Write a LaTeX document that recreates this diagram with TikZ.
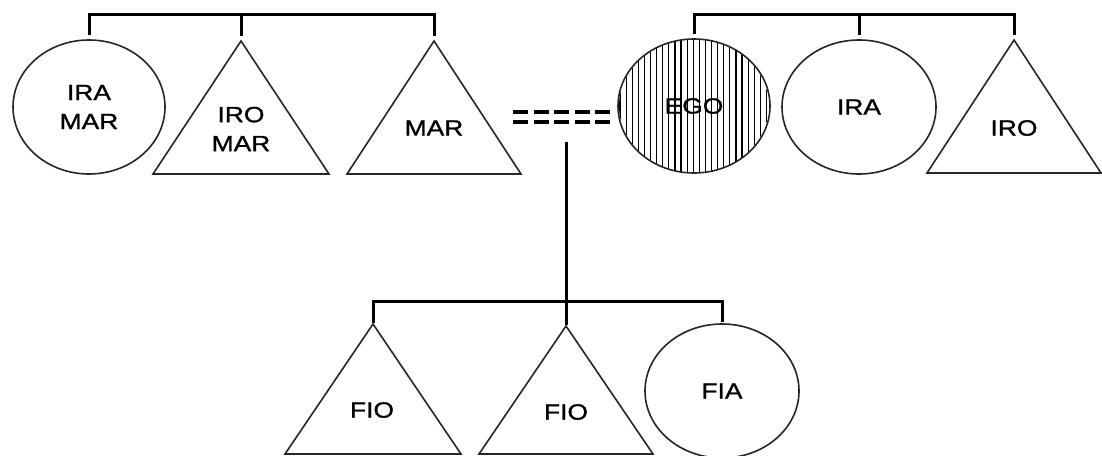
\documentclass[tikz,border=0pt]{standalone}
\usepackage{fontspec}
\setmainfont{Liberation Sans}[FakeStretch=1.2,FakeBold=1.2]
\usetikzlibrary{shapes.geometric}
\definecolor{outline}{HTML}{262626}
\begin{document}
\begin{tikzpicture}[x=1pt,y=-1pt,
  figure/.style={draw=outline, line width=1.6pt, line join=miter},
  lbl/.style={font=\fontsize{22}{29}\selectfont, align=center, inner sep=0pt},
  ell/.style={figure, ellipse, minimum width=152pt, minimum height=134pt, inner sep=0pt, align=center, font=\fontsize{22}{29}\selectfont},
  bracket/.style={draw=black, line width=3pt},
  marriage/.style={draw=black, line width=3.2pt, dash pattern=on 15pt off 5.5pt},
  hatch/.style={draw=black, line width=1.2pt}]
\useasboundingbox (0,0) rectangle (1102,455);
\fill[white] (0,0) rectangle (1102,455);

% ---- left sibling group ----
\node[ell] (iramar) at (89,107) {IRA\\MAR};
\coordinate (iromarT) at (241,41);
\draw[figure] (iromarT) -- ++(-88,133) -- ++(176,0) -- cycle;
\node[lbl] (iromarL) at (241,129) {IRO\\MAR};
\coordinate (marT) at (434,41);
\draw[figure] (marT) -- ++(-87,133) -- ++(174,0) -- cycle;
\node[lbl] (marL) at (434,128) {MAR};

\coordinate (ltop) at (0,14);
\draw[bracket] ([yshift=4pt]iramar.north) |- (iromarT |- ltop) -| ([yshift=5pt]marT);
\draw[bracket] (iromarT |- ltop) -- ([yshift=5pt]iromarT);

% ---- EGO with vertical hatching ----
\coordinate (egoC) at (694,106);
\begin{scope}
  \clip (egoC) ellipse [x radius=75, y radius=67];
  \foreach \i in {0,...,25} \draw[hatch] (620+\i*6.1,30) -- (620+\i*6.1,180);
\end{scope}
\node[ell] (ego) at (egoC) {EGO};

% ---- right sibling group ----
\node[ell, minimum width=154pt] (ira) at (859,107) {IRA};
\coordinate (iroT) at (1014,40);
\draw[figure] (iroT) -- ++(-87,133) -- ++(174,0) -- cycle;
\node[lbl] (iroL) at (1014,128) {IRO};

\coordinate (rtop) at (0,14);
\draw[bracket] ([yshift=4pt]ego.north) |- (ira.north |- rtop) -| ([yshift=5pt]iroT);
\draw[bracket] (ira.north |- rtop) -- ([yshift=4pt]ira.north);

% ---- marriage (double dashed) ----
\coordinate (mA1) at (513,112);
\coordinate (mB1) at (610,112);
\coordinate (mA2) at (513,122);
\coordinate (mB2) at (610,122);
\draw[marriage] (mA1) -- (mB1);
\draw[marriage] (mA2) -- (mB2);

% ---- children ----
\coordinate (fio1T) at (373,324);
\draw[figure] (fio1T) -- ++(-88,130) -- ++(176,0) -- cycle;
\node[lbl] (fio1L) at (372,410) {FIO};
\coordinate (fio2T) at (566,326);
\draw[figure] (fio2T) -- ++(-87,128) -- ++(174,0) -- cycle;
\node[lbl] (fio2L) at (566,412) {FIO};
\node[ell, minimum width=154pt] (fia) at (722,391) {FIA};

\coordinate (desc) at (566,142);
\coordinate (btop) at (0,301);
\draw[bracket] (desc) -- ([yshift=1pt]fio2T);
\draw[bracket] ([yshift=1pt]fio1T) |- (fio2T |- btop) -| ([yshift=1pt]fia.north);
\end{tikzpicture}
\end{document}
